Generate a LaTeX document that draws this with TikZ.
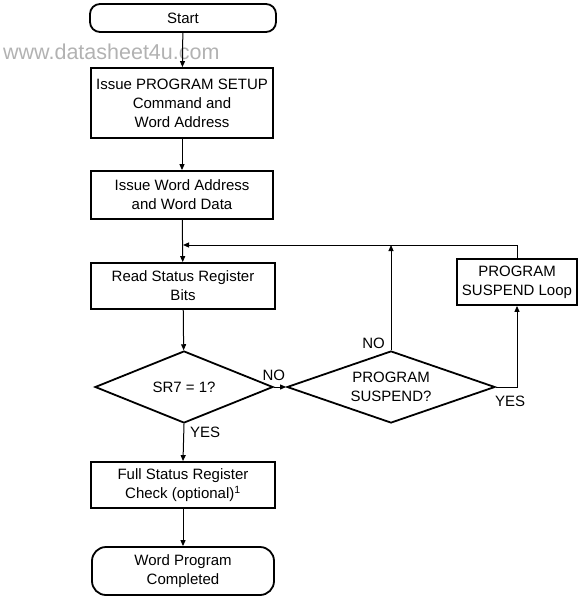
\documentclass[tikz,border=0pt]{standalone}
\usepackage{fontspec}
\setmainfont{Liberation Sans}
\usetikzlibrary{arrows.meta,calc,positioning,shapes.geometric}

\begin{document}
\begin{tikzpicture}[
    x=1pt, y=-1pt,
    stepbox/.style={draw, line width=1.8pt, align=center, inner sep=2pt,
        font=\fontsize{15}{19}\selectfont},
    terminal/.style={stepbox, rounded corners=12pt},
    decision/.style={draw, diamond, line width=1.8pt, align=center, inner sep=0pt,
        font=\fontsize{15}{19}\selectfont},
    flow/.style={-{Triangle[length=6pt,width=5pt]}, line width=1pt},
    lbl/.style={inner sep=0pt, font=\fontsize{15}{19}\selectfont}
]

% Page frame
\useasboundingbox (0,0) rectangle (578,596);

% Watermark
\node[anchor=base west, inner sep=0pt, gray!60, font=\fontsize{21.5}{24}\selectfont]
    (mark) at (3,60) {www.datasheet4u.com};

% === Main column ===
\node[terminal, minimum width=186pt, minimum height=28pt, rounded corners=10pt]
    (start) at (183,18) {Start};
\node[stepbox, minimum width=182pt, minimum height=70pt]
    (setup) at (182,103) {Issue PROGRAM SETUP\\Command and\\Word Address};
\node[stepbox, minimum width=182pt, minimum height=48pt]
    (data) at (182,195) {Issue Word Address\\and Word Data};
\coordinate (join) at (183,245);
\node[stepbox, minimum width=184pt, minimum height=46pt]
    (read) at (183,286) {Read Status Register\\Bits};
\node[decision, aspect=2.5, minimum width=178pt, minimum height=72pt]
    (sr7) at (184,387) {SR7 = 1?};
\node[stepbox, minimum width=184pt, minimum height=46pt]
    (full) at (183,485) {Full Status Register\\Check (optional)\textsuperscript{1}};
\node[terminal, minimum width=182pt, minimum height=48pt, rounded corners=14pt]
    (done) at (183,571) {Word Program\\Completed};

% === Suspend branch ===
\node[decision, aspect=2.9, minimum width=208pt, minimum height=72pt]
    (susp) at (391,387) {PROGRAM\\SUSPEND?};
\node[stepbox, minimum width=120pt, minimum height=46pt]
    (loop) at (517,282) {PROGRAM\\SUSPEND Loop};

% Connectors
\draw[flow] (start) -- (setup);
\draw[flow] (setup) -- (data);
\draw[flow] (data) -- (read);
\draw[flow] (read) -- (sr7);
\draw[flow] (sr7.east) -- (susp.west);
\draw[flow] (susp.north) -- (susp.north |- join);
\draw[flow] (susp.east) -| (loop.south);
\draw[flow] (loop.north) |- (join);
\draw[flow] (sr7.south) -- (full.north);
\draw[flow] (full) -- (done);

% Branch labels
\node[lbl, anchor=south] at ([yshift=6pt]sr7.east) {NO};
\node[lbl, anchor=south east] at ([xshift=-6pt,yshift=1pt]susp.north) {NO};
\node[lbl, anchor=north west] at ([xshift=-1pt,yshift=-9pt]susp.east) {YES};
\node[lbl, anchor=north west] at ([xshift=6pt,yshift=-3pt]sr7.south) {YES};

\end{tikzpicture}
\end{document}
